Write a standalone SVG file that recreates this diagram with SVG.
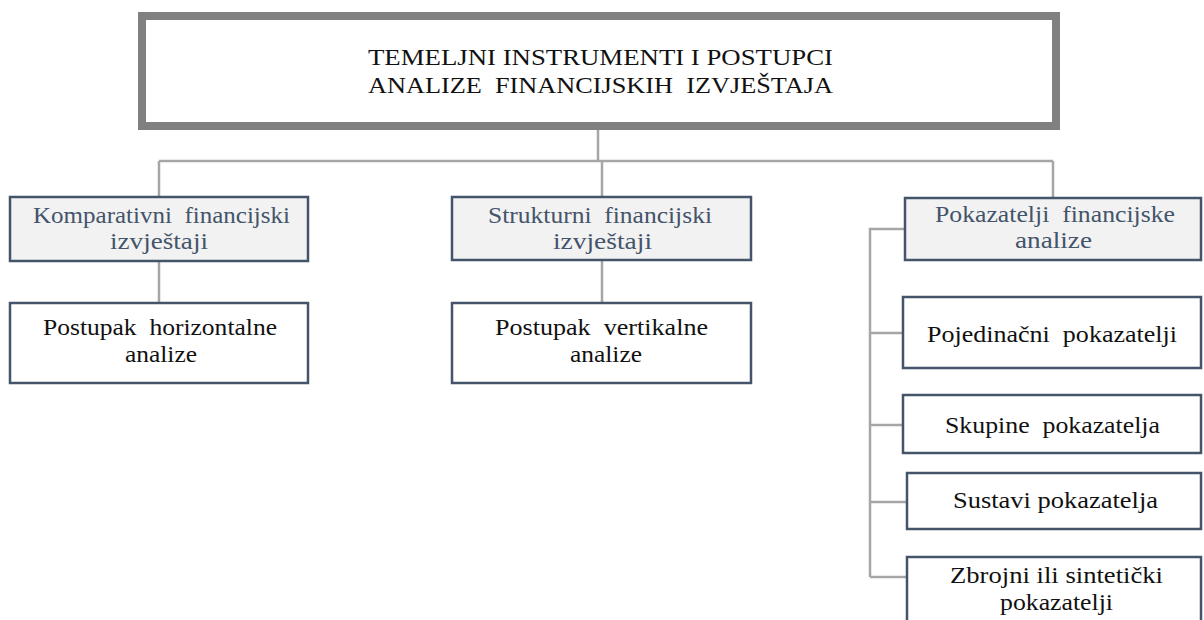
<svg xmlns="http://www.w3.org/2000/svg" width="1204" height="620" viewBox="0 0 1204 620">
<style>
text{font-family:'Liberation Serif',serif !important;font-size:23px;}
.h{fill:#f2f2f2;stroke:#44546a;stroke-width:2.5;}
.b{fill:#fff;stroke:#44546a;stroke-width:2.5;}
.c{fill:none;stroke:#a6a6a6;stroke-width:2.5;}
.k{fill:#111;}
.s{fill:#44546a;}
</style>
<rect width="1204" height="620" fill="#fff"/>
<g id="connectors">
<path class="c" d="M598 130V161M159 161H1053M159 161V197M602 161V197M1053 161V198M159 261V303M602 260V303M905 229H870V577M870 333H903M870 425H903M870 502H907M870 577H907"/>
</g>
<g id="title">
<rect x="142" y="16" width="914" height="110" fill="#fff" stroke="#808080" stroke-width="8"/>
<text class="k" style="font-family:'Liberation Serif',serif" x="368" y="65" textLength="465" lengthAdjust="spacingAndGlyphs">TEMELJNI INSTRUMENTI I POSTUPCI</text>
<text class="k" style="font-family:'Liberation Serif',serif" x="368" y="93" textLength="465" lengthAdjust="spacingAndGlyphs" xml:space="preserve">ANALIZE  FINANCIJSKIH  IZVJEŠTAJA</text>
</g>
<g id="komparativni">
<rect class="h" x="10" y="197" width="298" height="64"/>
<text class="s" style="font-family:'Liberation Serif',serif" x="33" y="223" textLength="257" lengthAdjust="spacingAndGlyphs" xml:space="preserve">Komparativni  financijski</text>
<text class="s" style="font-family:'Liberation Serif',serif" x="110" y="249" textLength="98" lengthAdjust="spacingAndGlyphs">izvještaji</text>
</g>
<g id="horizontalna">
<rect class="b" x="10" y="303" width="298" height="80"/>
<text class="k" style="font-family:'Liberation Serif',serif" x="43" y="335" textLength="234" lengthAdjust="spacingAndGlyphs" xml:space="preserve">Postupak  horizontalne</text>
<text class="k" style="font-family:'Liberation Serif',serif" x="125" y="362" textLength="72" lengthAdjust="spacingAndGlyphs">analize</text>
</g>
<g id="strukturni">
<rect class="h" x="452" y="197" width="299" height="63"/>
<text class="s" style="font-family:'Liberation Serif',serif" x="488" y="223" textLength="224" lengthAdjust="spacingAndGlyphs" xml:space="preserve">Strukturni  financijski</text>
<text class="s" style="font-family:'Liberation Serif',serif" x="553" y="249" textLength="99" lengthAdjust="spacingAndGlyphs">izvještaji</text>
</g>
<g id="vertikalna">
<rect class="b" x="452" y="303" width="299" height="80"/>
<text class="k" style="font-family:'Liberation Serif',serif" x="495" y="335" textLength="213" lengthAdjust="spacingAndGlyphs" xml:space="preserve">Postupak  vertikalne</text>
<text class="k" style="font-family:'Liberation Serif',serif" x="570" y="362" textLength="72" lengthAdjust="spacingAndGlyphs">analize</text>
</g>
<g id="pokazatelji">
<rect class="h" x="905" y="198" width="296" height="62"/>
<text class="s" style="font-family:'Liberation Serif',serif" x="935" y="222" textLength="240" lengthAdjust="spacingAndGlyphs" xml:space="preserve">Pokazatelji  financijske</text>
<text class="s" style="font-family:'Liberation Serif',serif" x="1015" y="248" textLength="77" lengthAdjust="spacingAndGlyphs">analize</text>
</g>
<g id="pojedinacni">
<rect class="b" x="903" y="297" width="298" height="71"/>
<text class="k" style="font-family:'Liberation Serif',serif" x="927" y="342" textLength="250" lengthAdjust="spacingAndGlyphs" xml:space="preserve">Pojedinačni  pokazatelji</text>
</g>
<g id="skupine">
<rect class="b" x="903" y="395" width="298" height="58"/>
<text class="k" style="font-family:'Liberation Serif',serif" x="945" y="433" textLength="215" lengthAdjust="spacingAndGlyphs" xml:space="preserve">Skupine  pokazatelja</text>
</g>
<g id="sustavi">
<rect class="b" x="907" y="473" width="294" height="56"/>
<text class="k" style="font-family:'Liberation Serif',serif" x="953" y="508" textLength="205" lengthAdjust="spacingAndGlyphs">Sustavi pokazatelja</text>
</g>
<g id="zbrojni">
<rect class="b" x="907" y="557" width="294" height="80"/>
<text class="k" style="font-family:'Liberation Serif',serif" x="950" y="583" textLength="213" lengthAdjust="spacingAndGlyphs">Zbrojni ili sintetički</text>
<text class="k" style="font-family:'Liberation Serif',serif" x="1000" y="610" textLength="113" lengthAdjust="spacingAndGlyphs">pokazatelji</text>
</g>
</svg>
